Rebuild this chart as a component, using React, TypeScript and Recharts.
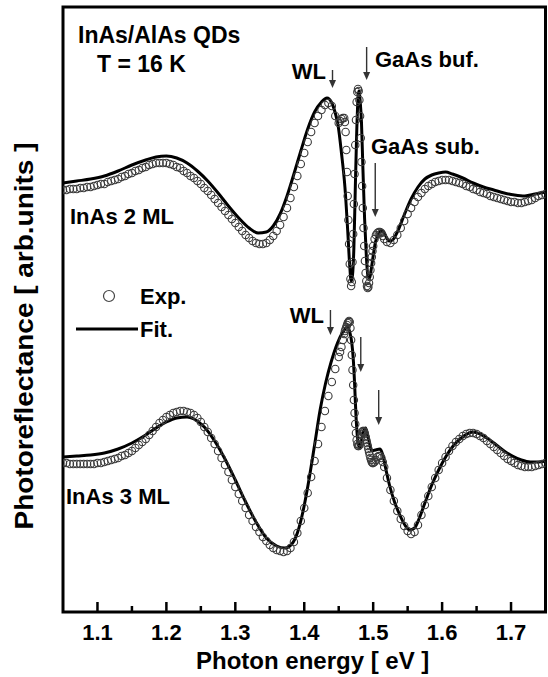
import {
  ComposedChart,
  Line,
  ReferenceArea,
  ReferenceLine,
  Scatter,
  XAxis,
  YAxis,
} from "recharts";

const FONT = '"Liberation Sans", Arial, Helvetica, sans-serif';

// 実験点のエネルギー (eV)。急峻な所だけ細かく。
const expEnergy = [
  1.05, 1.055, 1.06, 1.065, 1.07, 1.075, 1.08, 1.085, 1.09, 1.095,
  1.1, 1.105, 1.11, 1.115, 1.12, 1.125, 1.13, 1.135, 1.14, 1.145,
  1.15, 1.155, 1.16, 1.165, 1.17, 1.175, 1.18, 1.185, 1.19, 1.195,
  1.2, 1.205, 1.21, 1.215, 1.22, 1.225, 1.23, 1.235, 1.24, 1.245,
  1.25, 1.255, 1.26, 1.265, 1.27, 1.275, 1.28, 1.285, 1.29, 1.295,
  1.3, 1.305, 1.31, 1.315, 1.32, 1.325, 1.33, 1.335, 1.34, 1.345,
  1.35, 1.355, 1.36, 1.365, 1.37, 1.375, 1.38, 1.385, 1.39, 1.395,
  1.4, 1.405, 1.41, 1.415, 1.42, 1.425, 1.43, 1.435, 1.44, 1.445,
  1.45,
  1.452, 1.454, 1.456, 1.458,
  1.459, 1.46, 1.461, 1.462, 1.463, 1.464, 1.465, 1.466, 1.467, 1.468,
  1.469, 1.47, 1.471, 1.472, 1.473, 1.474, 1.475, 1.476, 1.477, 1.478,
  1.479, 1.48, 1.481, 1.482, 1.483, 1.484, 1.485, 1.486, 1.487, 1.488,
  1.489, 1.49, 1.491, 1.492, 1.493, 1.494, 1.495, 1.496, 1.497, 1.498,
  1.499, 1.5,
  1.502, 1.504, 1.506, 1.508, 1.51, 1.512, 1.514, 1.516,
  1.52, 1.525, 1.53, 1.535, 1.54, 1.545, 1.55, 1.555, 1.56, 1.565,
  1.57, 1.575, 1.58, 1.585, 1.59, 1.595, 1.6, 1.605, 1.61, 1.615,
  1.62, 1.625, 1.63, 1.635, 1.64, 1.645, 1.65, 1.655, 1.66, 1.665,
  1.67, 1.675, 1.68, 1.685, 1.69, 1.695, 1.7, 1.705, 1.71, 1.715,
  1.72, 1.725, 1.73, 1.735, 1.74, 1.745, 1.75,
];

// PR 信号 (arb. units, 縦にずらした後の値)
const exp2ML = [
  422, 422, 423, 423, 423, 424, 424, 425, 425, 426,
  427, 428, 428, 430, 431, 432, 433, 435, 436, 438,
  439, 441, 442, 444, 445, 447, 448, 449, 449, 449,
  449, 448, 447, 445, 444, 441, 439, 436, 434, 431,
  428, 424, 421, 417, 413, 409, 405, 401, 397, 393,
  389, 385, 381, 377, 374, 371, 369, 368, 368, 369,
  372, 376, 381, 387, 395, 404, 414, 425, 436, 448,
  459, 470, 480, 489, 496, 502, 507, 509, 506, 496,
  489,
  491, 493, 494, 494,
  490, 480, 462, 440, 416, 392, 368, 348, 333, 326,
  330, 350, 378, 408, 438, 467, 492, 510, 520, 523,
  521, 512, 496, 474, 450, 426, 404, 384, 366, 351,
  339, 331, 326, 324, 325, 329, 335, 342, 349, 355,
  361, 366,
  373, 377, 379, 380, 380, 379, 376, 373,
  370, 369, 372, 377, 384, 391, 398, 404, 410, 415,
  419, 423, 426, 428, 430, 431, 432, 432, 432, 431,
  430, 429, 428, 426, 425, 423, 422, 420, 419, 418,
  416, 415, 414, 413, 412, 411, 410, 410, 409, 409,
  410, 411, 412, 414, 416, 417, 418,
];

const exp3ML = [
  149, 149, 148, 148, 148, 148, 148, 148, 148, 148,
  149, 149, 150, 151, 152, 153, 154, 156, 157, 159,
  161, 164, 167, 170, 173, 177, 181, 185, 189, 192,
  195, 197, 199, 200, 201, 201, 200, 199, 197, 194,
  190, 185, 180, 174, 168, 161, 154, 147, 140, 132,
  125, 118, 111, 104, 97, 91, 85, 80, 75, 71,
  67, 64, 62, 61, 60, 61, 64, 70, 79, 91,
  104, 119, 135, 151, 168, 185, 201, 216, 230, 243,
  255,
  260, 265, 272, 278,
  281, 283, 285, 287, 289, 290, 291, 290, 284, 272,
  257, 242, 227, 212, 199, 188, 179, 172, 168, 166,
  166, 167, 170, 174, 178, 180, 181, 181, 180, 178,
  175, 172, 169, 166, 163, 160, 157, 154, 152, 150,
  149, 149,
  150, 152, 155, 156, 156, 154, 150, 145,
  134, 122, 111, 101, 93, 86, 81, 78, 80, 87,
  97, 107, 116, 125, 134, 142, 149, 155, 161, 166,
  170, 173, 176, 178, 179, 179, 178, 176, 174, 171,
  168, 165, 162, 159, 156, 153, 151, 149, 147, 146,
  145, 145, 145, 146, 147, 148, 149,
];

// フィット曲線
const fitEnergy2ML = [
  1.05, 1.07, 1.09, 1.11, 1.13, 1.15, 1.17, 1.185, 1.2, 1.215,
  1.23, 1.245, 1.26, 1.275, 1.29, 1.305, 1.32, 1.333, 1.345, 1.355,
  1.365, 1.375, 1.385, 1.395, 1.405, 1.415, 1.425, 1.433, 1.44, 1.445,
  1.449, 1.454, 1.459, 1.463, 1.466, 1.468, 1.47, 1.472, 1.474, 1.476,
  1.478, 1.479, 1.48, 1.481, 1.483, 1.485, 1.4875, 1.49, 1.4925, 1.495,
  1.497, 1.5, 1.503, 1.507, 1.511, 1.515, 1.519, 1.523, 1.528, 1.535,
  1.545, 1.555, 1.565, 1.575, 1.585, 1.595, 1.605, 1.615, 1.63, 1.645,
  1.66, 1.675, 1.69, 1.705, 1.72, 1.735, 1.75,
];
const fit2ML = [
  429, 431, 433, 436, 441, 447, 452, 455, 456, 454,
  449, 441, 431, 419, 406, 394, 384, 379, 380, 386,
  398, 416, 438, 461, 483, 500, 510, 514, 509, 499,
  487, 459, 425, 382, 346, 331, 337, 364, 422, 477,
  514, 521, 519, 512, 490, 446, 394, 357, 335, 334,
  342, 356, 369, 377, 381, 380, 375, 371, 372, 380,
  397, 413, 425, 433, 437, 439, 440, 438, 434, 429,
  425, 422, 419, 417, 416, 418, 420,
];

const fitEnergy3ML = [
  1.05, 1.07, 1.09, 1.11, 1.13, 1.15, 1.17, 1.185, 1.2, 1.215,
  1.23, 1.24, 1.255, 1.27, 1.285, 1.3, 1.315, 1.33, 1.345, 1.36,
  1.372, 1.382, 1.39, 1.398, 1.405, 1.415, 1.423, 1.431, 1.439, 1.446,
  1.456, 1.463, 1.466, 1.469, 1.471, 1.473, 1.475, 1.477, 1.48, 1.483,
  1.486, 1.489, 1.492, 1.495, 1.498, 1.503, 1.51, 1.514, 1.518, 1.524,
  1.531, 1.538, 1.546, 1.553, 1.56, 1.567, 1.575, 1.585, 1.595, 1.606,
  1.616, 1.626, 1.636, 1.645, 1.655, 1.665, 1.677, 1.69, 1.702, 1.715,
  1.728, 1.74, 1.75,
];
const fit3ML = [
  155, 156, 157, 159, 163, 169, 177, 184, 190, 194,
  195, 193, 185, 171, 153, 132, 110, 90, 74, 66,
  64, 68, 79, 100, 125, 167, 202, 229, 250, 265,
  280, 285, 280, 269, 254, 229, 197, 176, 164, 172,
  181, 184, 177, 168, 161, 162, 163, 157, 144, 126,
  110, 98, 87, 82, 84, 94, 109, 127, 142, 156,
  166, 173, 178, 180, 178, 174, 168, 161, 156, 152,
  150, 150, 151,
];

const xTicks = [
  1.1, 1.15, 1.2, 1.25, 1.3, 1.35, 1.4, 1.45, 1.5, 1.55, 1.6, 1.65, 1.7,
];

// 矢印: 位置 (eV), 始点と先端の信号値
const arrowEnergy = [1.441, 1.4905, 1.503, 1.438, 1.482, 1.508];
const arrowFrom = [542, 565, 449, 302, 275, 222];
const arrowTo = [524, 532, 395, 277, 240, 187];

const exp2Data = expEnergy.map((e, i) => ({ e, v: exp2ML[i] }));
const exp3Data = expEnergy.map((e, i) => ({ e, v: exp3ML[i] }));
const fit2Data = fitEnergy2ML.map((e, i) => ({ e, v: fit2ML[i] }));
const fit3Data = fitEnergy3ML.map((e, i) => ({ e, v: fit3ML[i] }));

function OpenCircle(p: any) {
  return (
    <circle cx={p.cx} cy={p.cy} r={3.7} fill="none" stroke="#3a3a3a" strokeWidth={1.1} />
  );
}

// 目盛りは内向き。ラベルは 0.1 eV ごと。
function EnergyTick(p: any) {
  const { x, y, payload } = p;
  const v = payload.value as number;
  const major = Math.round(v * 100) % 10 === 0;
  return (
    <g>
      <line x1={x} y1={y} x2={x} y2={y - (major ? 10 : 6)} stroke="#000" strokeWidth={2.5} />
      {major && (
        <text
          x={x}
          y={y + 28}
          textAnchor="middle"
          fontFamily={FONT}
          fontWeight="bold"
          fontSize={22}
          fill="#000"
        >
          {v.toFixed(1)}
        </text>
      )}
    </g>
  );
}

function DownArrow(p: any) {
  const { x1, y1, x2, y2 } = p;
  return (
    <g>
      <line x1={x1} y1={y1} x2={x2} y2={y2 - 6} stroke="#333" strokeWidth={1.4} />
      <path d={`M${x2 - 3.5},${y2 - 8} L${x2 + 3.5},${y2 - 8} L${x2},${y2} Z`} fill="#333" />
    </g>
  );
}

export default function App() {
  return (
    <div style={{ position: "absolute", left: 0, top: 0, width: 548, height: 677, background: "#fff" }}>
      <ComposedChart
        width={548}
        height={677}
        margin={{ top: 7, right: 2.5, bottom: 25, left: 63 }}
      >
        <XAxis
          dataKey="e"
          type="number"
          domain={[1.05, 1.75]}
          ticks={xTicks}
          interval={0}
          height={40}
          tickSize={0}
          tickMargin={0}
          tickLine={false}
          axisLine={false}
          tick={(p: any) => <EnergyTick {...p} />}
          allowDataOverflow
        />
        <YAxis dataKey="v" type="number" domain={[0, 605]} hide allowDataOverflow />
        <Scatter data={exp2Data} shape={OpenCircle} isAnimationActive={false} />
        <Scatter data={exp3Data} shape={OpenCircle} isAnimationActive={false} />
        <Line
          data={fit2Data}
          dataKey="v"
          type="monotone"
          stroke="#000"
          strokeWidth={3}
          dot={false}
          isAnimationActive={false}
        />
        <Line
          data={fit3Data}
          dataKey="v"
          type="monotone"
          stroke="#000"
          strokeWidth={3}
          dot={false}
          isAnimationActive={false}
        />
        {arrowEnergy.map((e, i) => (
          <ReferenceLine
            key={i}
            segment={[
              { x: e, y: arrowFrom[i] },
              { x: e, y: arrowTo[i] },
            ]}
            shape={DownArrow}
          />
        ))}
        <ReferenceArea
          x1={1.05}
          x2={1.75}
          y1={0}
          y2={605}
          fill="none"
          fillOpacity={0}
          stroke="#000"
          strokeWidth={3}
          ifOverflow="visible"
        />
      </ComposedChart>
      <svg
        width={548}
        height={677}
        style={{ position: "absolute", left: 0, top: 0, pointerEvents: "none" }}
        fontFamily={FONT}
        fontWeight="bold"
        fill="#000"
      >
        <text x={78} y={43} fontSize={23}>InAs/AlAs QDs</text>
        <text x={97} y={72} fontSize={23}>T = 16 K</text>
        <text x={326} y={79} fontSize={22} textAnchor="end">WL</text>
        <text x={375} y={67} fontSize={22}>GaAs buf.</text>
        <text x={371} y={154} fontSize={22}>GaAs sub.</text>
        <text x={70} y={224} fontSize={22}>InAs 2 ML</text>
        <circle cx={109} cy={296} r={5.5} fill="none" stroke="#444" strokeWidth={1.2} />
        <text x={140} y={304} fontSize={22}>Exp.</text>
        <line x1={76} y1={329} x2={138} y2={329} stroke="#000" strokeWidth={3} />
        <text x={140} y={337} fontSize={22}>Fit.</text>
        <text x={324} y={323} fontSize={22} textAnchor="end">WL</text>
        <text x={66} y={504} fontSize={22}>InAs 3 ML</text>
        <text x={196} y={669} fontSize={24}>Photon energy [ eV ]</text>
        <text
          transform="translate(33, 336) rotate(-90)"
          textAnchor="middle"
          fontSize={25}
          textLength={387}
          lengthAdjust="spacingAndGlyphs"
        >
          Photoreflectance [ arb.units ]
        </text>
      </svg>
    </div>
  );
}
